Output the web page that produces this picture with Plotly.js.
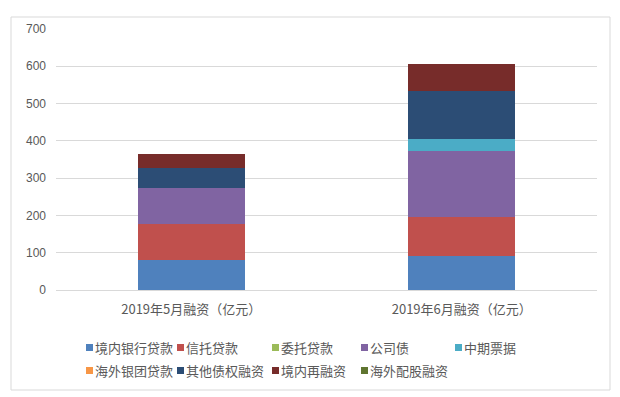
<!DOCTYPE html>
<html>
<head>
<meta charset="utf-8">
<script src="https://cdn.plot.ly/plotly-3.0.1.min.js"></script>
<style>
html,body{margin:0;padding:0;background:#fff;}
#chart{width:620px;height:397px;}
</style>
</head>
<body>
<div id="chart"></div>
<script>
var categories = ["2019年5月融资（亿元）", "2019年6月融资（亿元）"];
var seriesNames = ["境内银行贷款", "信托贷款", "委托贷款", "公司债", "中期票据", "海外银团贷款", "其他债权融资", "境内再融资", "海外配股融资"];
var domesticBankLoans = [80, 90];
var trustLoans = [97, 107];
var entrustedLoans = [0, 0];
var corporateBonds = [96, 175];
var mediumTermNotes = [0, 32];
var overseasSyndicatedLoans = [0, 0];
var otherDebtFinancing = [53, 129];
var domesticRefinancing = [39, 74];
var overseasPlacement = [0, 0];
var seriesValues = [domesticBankLoans, trustLoans, entrustedLoans, corporateBonds, mediumTermNotes, overseasSyndicatedLoans, otherDebtFinancing, domesticRefinancing, overseasPlacement];
var colors = ["#4F81BD", "#C0504D", "#9BBB59", "#8064A2", "#4BACC6", "#F79646", "#2C4D75", "#772C2A", "#5F7530"];
var yTicks = [0, 100, 200, 300, 400, 500, 600, 700];

// layout geometry (pixels)
var W = 620, H = 397;
var M = {l: 56, r: 23, t: 29, b: 107};
var PW = W - M.l - M.r, PH = H - M.t - M.b;
function px2x(px) { return (px - M.l) / PW; }
function px2y(py) { return (H - M.b - py) / PH; }

var traces = seriesNames.map(function(name, i) {
  return {
    type: "bar",
    name: name,
    x: categories,
    y: seriesValues[i],
    marker: {color: colors[i], line: {width: 0}},
    hoverinfo: "name+y",
    showlegend: false
  };
});

// custom legend (Excel-style: small square followed closely by the name)
var legendCols = [86, 177, 272, 361, 455];
var legendRows = [347.5, 370.5];
var shapes = [{
  type: "rect", xref: "paper", yref: "paper",
  x0: px2x(11), x1: px2x(610), y0: px2y(390), y1: px2y(17),
  line: {color: "#d9d9d9", width: 1},
  fillcolor: "rgba(0,0,0,0)", layer: "below"
}];
var annotations = [];
seriesNames.forEach(function(name, i) {
  var col = i % 5, row = Math.floor(i / 5);
  var lx = legendCols[col], cy = legendRows[row];
  shapes.push({
    type: "rect", xref: "paper", yref: "paper",
    x0: px2x(lx), x1: px2x(lx + 7), y0: px2y(cy + 3.5), y1: px2y(cy - 3.5),
    line: {width: 0}, fillcolor: colors[i]
  });
  annotations.push({
    xref: "paper", yref: "paper",
    x: px2x(lx + 7), y: px2y(cy),
    xanchor: "left", yanchor: "middle",
    showarrow: false,
    text: name,
    font: {size: 13, color: "#595959"}
  });
});

var layout = {
  width: W,
  height: H,
  barmode: "stack",
  bargap: 0.604,
  margin: M,
  paper_bgcolor: "#ffffff",
  plot_bgcolor: "#ffffff",
  font: {family: "'Noto Sans CJK SC', 'Liberation Sans', sans-serif", size: 12, color: "#595959"},
  xaxis: {
    type: "category",
    showgrid: false,
    showline: false,
    ticks: "",
    ticklabelstandoff: 10,
    tickfont: {size: 13, color: "#595959"},
    fixedrange: true
  },
  yaxis: {
    range: [0, 700],
    tickvals: yTicks,
    ticktext: yTicks.map(String),
    showgrid: true,
    gridcolor: "#d9d9d9",
    gridwidth: 1,
    zeroline: true,
    zerolinecolor: "#d9d9d9",
    zerolinewidth: 1,
    showline: false,
    ticks: "",
    ticklabelstandoff: 9,
    tickfont: {family: "'Liberation Sans', Arial, sans-serif", size: 12, color: "#595959"},
    fixedrange: true
  },
  showlegend: false,
  shapes: shapes,
  annotations: annotations
};

Plotly.newPlot("chart", traces, layout, {displayModeBar: false, staticPlot: true});
</script>
</body>
</html>
